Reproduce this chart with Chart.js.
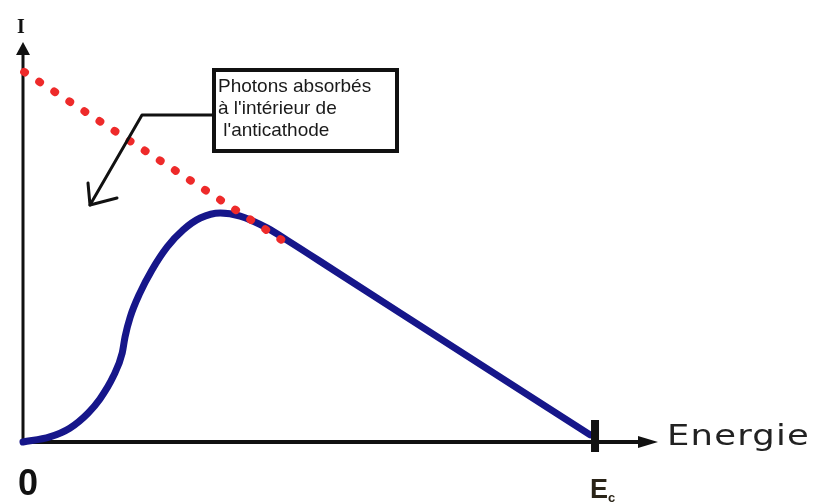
<!DOCTYPE html>
<html lang="fr">
  <head>
    <meta charset="UTF-8" />
    <meta name="viewport" content="width=device-width, initial-scale=1.0" />
    <script src="https://cdn.jsdelivr.net/npm/chart.js@4.4.0/dist/chart.umd.min.js"></script>
    <title>Spectre continu</title>
    <style>
      body { margin: 0; background: #fff; }
      #wrap { width: 820px; height: 503px; }
    </style>
  </head>
  <body>
    <div id="wrap"><canvas id="myChart"></canvas></div>
    <script>
      // emitted spectrum (blue curve)
      const energy = [0, 4.7, 8.2, 11.4, 13.5, 15.8, 17.4, 17.9, 18.8, 20.5, 22.6, 25.3, 28.1, 31.1, 34.6, 38.1, 42.8, 46.3, 54.4, 77.9, 99.5];
      const intensity = [0, 1.3, 3.5, 7.3, 10.9, 16.5, 22.5, 26.6, 31.6, 37.7, 43.5, 49.4, 53.7, 56.7, 58.0, 57.2, 54.2, 51.1, 43.6, 21.8, 1.8];
      // photons absorbed inside the anticathode (red dots)
      const absorbedEnergy = [0.2, 46.5];
      const absorbedIntensity = [93.7, 50.1];
      // axis texts
      const xTicks = [0, 100];
      const xTickLabels = ["0", "E"];
      const xTickSubs = ["", "c"];
      const xTitle = "Energie";
      const yTitle = "I";
      const noteLines = ["Photons absorbés", "à l'intérieur de", " l'anticathode"];

      const toPoints = (xs, ys) => xs.map((v, i) => ({ x: v, y: ys[i] }));

      const drawing = {
        id: "drawing",
        beforeDatasetsDraw(chart) {
          const { ctx, scales: { x, y } } = chart;
          const x0 = x.getPixelForValue(0);
          const y0 = y.getPixelForValue(0);
          const xEnd = x.right;
          const yEnd = y.top - 5;
          ctx.save();
          ctx.strokeStyle = "#111";
          ctx.fillStyle = "#111";
          // vertical axis
          ctx.lineWidth = 3;
          ctx.beginPath();
          ctx.moveTo(x0, y0 + 2);
          ctx.lineTo(x0, yEnd + 10);
          ctx.stroke();
          ctx.beginPath();
          ctx.moveTo(x0, yEnd);
          ctx.lineTo(x0 - 7, yEnd + 13);
          ctx.lineTo(x0 + 7, yEnd + 13);
          ctx.closePath();
          ctx.fill();
          // horizontal axis
          ctx.lineWidth = 4;
          ctx.beginPath();
          ctx.moveTo(x0 - 2, y0);
          ctx.lineTo(xEnd - 15, y0);
          ctx.stroke();
          ctx.beginPath();
          ctx.moveTo(xEnd, y0);
          ctx.lineTo(xEnd - 20, y0 - 6);
          ctx.lineTo(xEnd - 20, y0 + 6);
          ctx.closePath();
          ctx.fill();
          ctx.restore();
        },
        afterDatasetsDraw(chart) {
          const { ctx, scales: { x, y } } = chart;
          const x0 = x.getPixelForValue(0);
          const y0 = y.getPixelForValue(0);
          ctx.save();
          ctx.fillStyle = "#111";
          ctx.strokeStyle = "#111";

          // tick mark at Ec
          const xc = x.getPixelForValue(xTicks[1]) + 2;
          ctx.fillRect(xc - 4, y0 - 22, 8, 32);

          // tick labels
          ctx.textBaseline = "alphabetic";
          ctx.textAlign = "center";
          ctx.font = "bold 36px 'Liberation Sans'";
          ctx.fillText(xTickLabels[0], x0 + 5, y0 + 53);
          ctx.textAlign = "left";
          ctx.font = "bold 27px 'Liberation Sans'";
          ctx.fillStyle = "#2a2418";
          ctx.fillText(xTickLabels[1], xc - 5, y0 + 56);
          const ew = ctx.measureText(xTickLabels[1]).width;
          ctx.font = "bold 13px 'Liberation Sans'";
          ctx.fillText(xTickSubs[1], xc - 5 + ew, y0 + 60);

          // axis titles
          ctx.fillStyle = "#111";
          ctx.textAlign = "center";
          ctx.font = "bold 20px 'Liberation Serif'";
          ctx.fillText(yTitle, x0 - 2, 33);
          ctx.textAlign = "left";
          ctx.fillStyle = "#222";
          ctx.save();
          ctx.translate(x.right + 9, y0 + 3);
          ctx.scale(1.22, 1);
          ctx.font = "29px 'DejaVu Sans'";
          ctx.letterSpacing = "1px";
          ctx.fillText(xTitle, 0, 0);
          ctx.restore();

          // note box
          ctx.fillStyle = "#fff";
          ctx.fillRect(214, 70, 183, 81);
          ctx.lineWidth = 4;
          ctx.strokeRect(214, 70, 183, 81);
          ctx.fillStyle = "#1a1a1a";
          ctx.font = "19px 'Liberation Sans'";
          noteLines.forEach((t, i) => ctx.fillText(t, 218, 92 + i * 22));

          // pointer
          ctx.lineWidth = 3;
          ctx.lineJoin = "round";
          ctx.lineCap = "round";
          ctx.beginPath();
          ctx.moveTo(212, 115);
          ctx.lineTo(142, 115);
          ctx.lineTo(90, 205);
          ctx.stroke();
          ctx.beginPath();
          ctx.moveTo(88, 183);
          ctx.lineTo(90, 205);
          ctx.lineTo(117, 198);
          ctx.stroke();
          ctx.restore();
        },
      };

      const ctx = document.getElementById("myChart").getContext("2d");
      const myChart = new Chart(ctx, {
        type: "line",
        data: {
          datasets: [
            {
              label: "Photons absorbés",
              data: toPoints(absorbedEnergy, absorbedIntensity),
              borderColor: "#ee2a2a",
              borderWidth: 8,
              borderDash: [1, 17],
              borderCapStyle: "round",
              pointRadius: 0,
              clip: false,
              order: 0,
            },
            {
              label: "Spectre",
              data: toPoints(energy, intensity),
              borderColor: "#16168a",
              borderWidth: 7,
              borderCapStyle: "round",
              cubicInterpolationMode: "monotone",
              pointRadius: 0,
              clip: false,
              order: 1,
            },
          ],
        },
        options: {
          responsive: true,
          maintainAspectRatio: false,
          animation: false,
          layout: { padding: { left: 23, right: 162, top: 47, bottom: 61 } },
          plugins: { legend: { display: false }, tooltip: { enabled: false } },
          scales: {
            x: { type: "linear", min: 0, max: 111.4, display: false },
            y: { type: "linear", min: 0, max: 100, display: false },
          },
        },
        plugins: [drawing],
      });
    </script>
  </body>
</html>
